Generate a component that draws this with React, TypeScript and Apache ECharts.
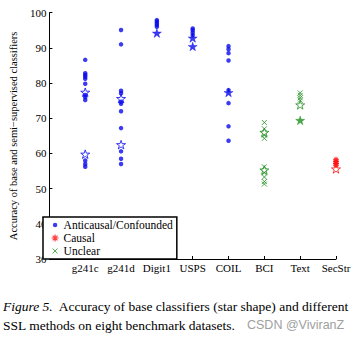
import React, { useEffect, useRef } from 'react';
import * as echarts from 'echarts';

const categories = ['g241c', 'g241d', 'Digit1', 'USPS', 'COIL', 'BCI', 'Text', 'SecStr'];
const categoryType = ['anticausal', 'anticausal', 'anticausal', 'anticausal', 'anticausal', 'unclear', 'unclear', 'causal'];

// SSL method accuracies (dots / crosses / asterisks)
const g241cSSL = [86.6, 82.8, 82.3, 81.8, 81.2, 79.8, 76.6, 76.0, 75.2, 58.0, 57.0, 56.2];
const g241dSSL = [95.1, 91.0, 77.8, 77.1, 74.7, 74.1, 72.0, 67.2, 60.6, 58.5, 57.0];
const digit1SSL = [97.9, 97.5, 97.0, 96.5, 96.0];
const uspsSSL = [95.5, 95.0, 94.3, 93.6];
const coilSSL = [90.5, 89.6, 88.5, 86.4, 78.0, 74.3, 67.7, 63.6];
const bciSSL = [68.8, 67.0, 65.2, 64.3, 56.2, 54.5, 53.3, 52.0, 51.3];
const textSSL = [77.2, 76.5, 75.8, 75.1];
const secStrSSL = [58.2, 57.7, 57.2, 56.7];

// base classifier accuracies (stars)
const g241cBaseHollow = [77.4, 59.8];
const g241dBaseHollow = [75.6, 62.5];
const digit1BaseFilled = [94.2];
const uspsBaseFilled = [92.8, 90.4];
const coilBaseFilled = [77.3];
const bciBaseHollow = [66.0, 55.3];
const textBaseHollow = [73.8];
const textBaseFilled = [69.4];
const secStrBaseHollow = [55.6];

const sslByCat = [g241cSSL, g241dSSL, digit1SSL, uspsSSL, coilSSL, bciSSL, textSSL, secStrSSL];
const hollowByCat = [g241cBaseHollow, g241dBaseHollow, [], [], [], bciBaseHollow, textBaseHollow, secStrBaseHollow];
const filledByCat = [[], [], digit1BaseFilled, uspsBaseFilled, coilBaseFilled, [], textBaseFilled, []];

const yTicks = [30, 40, 50, 60, 70, 80, 90, 100];

const BLUE = '#0a0aee';
const RED = '#ff1010';
const GREEN = '#1f8f1f';
const typeColor: Record<string, string> = { anticausal: BLUE, causal: RED, unclear: GREEN };

const STAR = 'path://M50,2 L61.8,37.6 L99,37.6 L69,59.6 L80.4,95 L50,73 L19.6,95 L31,59.6 L1,37.6 L38.2,37.6 Z';
const CROSS = 'path://M0,0L10,10M10,0L0,10';
const CROSS_LEG = 'path://M0,0L0.01,0M10,10L10.01,10M1.5,1.5L8.5,8.5M8.5,1.5L1.5,8.5';
const ASTER = 'path://M5,0L5,10M0,5L10,5M1.5,1.5L8.5,8.5M8.5,1.5L1.5,8.5';
const SMALLDOT = 'path://M0,0L0.01,0M10,10L10.01,10M5,1.8A3.2,3.2,0,1,1,5,8.2A3.2,3.2,0,1,1,5,1.8Z';

const FONT = 'Liberation Serif';

export default function App() {
  const ref = useRef<HTMLDivElement>(null);
  useEffect(() => {
    if (!ref.current) return;
    const chart = echarts.init(ref.current, null, { renderer: 'svg' });

    const pts = (type: string) => {
      const out: number[][] = [];
      sslByCat.forEach((arr, i) => {
        if (categoryType[i] === type) arr.forEach((v) => out.push([i + 1, v]));
      });
      return out;
    };
    const stars = (byCat: number[][], hollow: boolean) => {
      const out: any[] = [];
      byCat.forEach((arr, i) => {
        const c = typeColor[categoryType[i]];
        arr.forEach((v) =>
          out.push({
            value: [i + 1, v],
            itemStyle: hollow
              ? { color: 'rgba(255,255,255,0)', borderColor: c, borderWidth: 1 }
              : { color: c, borderColor: c, borderWidth: 0.5 },
          })
        );
      });
      return out;
    };

    chart.setOption({
      animation: false,
      grid: { left: 42, right: 25, top: 12.7, bottom: 83, containLabel: false },
      xAxis: {
        type: 'value',
        min: 0,
        max: 8,
        interval: 1,
        splitLine: { show: false },
        axisLine: { lineStyle: { color: '#000', width: 1 } },
        axisTick: { inside: true, length: 3, lineStyle: { color: '#000' } },
        axisLabel: {
          color: '#000',
          fontFamily: FONT,
          fontSize: 11,
          margin: 3,
          formatter: (v: number) => (v >= 1 && v <= 8 ? categories[v - 1] : ''),
        },
      },
      yAxis: {
        type: 'value',
        min: 30,
        max: 100,
        interval: 10,
        splitLine: { show: false },
        axisLine: { show: true, lineStyle: { color: '#000', width: 1 } },
        axisTick: { show: true, inside: true, length: 3, lineStyle: { color: '#000' } },
        axisLabel: {
          color: '#000',
          fontFamily: FONT,
          fontSize: 11,
          margin: 3,
          formatter: (v: number) => (yTicks.includes(v) ? String(v) : ''),
        },
        name: 'Accuracy of base and semi\u2212supervised classifiers',
        nameLocation: 'middle',
        nameRotate: 90,
        nameGap: 22,
        nameTextStyle: { color: '#000', fontFamily: FONT, fontSize: 10.5 },
      },
      legend: {
        orient: 'vertical',
        left: 43,
        top: 217,
        padding: [2, 4, 2, 8],
        itemGap: 1,
        itemWidth: 7,
        itemHeight: 7,
        borderColor: '#000',
        borderWidth: 1.5,
        backgroundColor: '#fff',
        textStyle: { color: '#000', fontFamily: FONT, fontSize: 11.5, lineHeight: 12 },
        data: [
          { name: 'Anticausal/Confounded', icon: SMALLDOT, itemStyle: { color: BLUE, borderWidth: 0 } },
          { name: 'Causal', icon: ASTER, itemStyle: { color: 'rgba(0,0,0,0)', borderColor: RED, borderWidth: 1.2 } },
          { name: 'Unclear', icon: CROSS_LEG, itemStyle: { color: 'rgba(0,0,0,0)', borderColor: GREEN, borderWidth: 1 } },
        ],
      },
      series: [
        {
          name: 'Anticausal/Confounded',
          type: 'scatter',
          symbol: 'circle',
          symbolSize: 4.5,
          itemStyle: { color: BLUE },
          data: pts('anticausal'),
          z: 2,
        },
        {
          name: 'Causal',
          type: 'scatter',
          symbol: ASTER,
          symbolSize: 6,
          itemStyle: { color: 'rgba(0,0,0,0)', borderColor: RED, borderWidth: 1.2 },
          data: pts('causal'),
          z: 2,
        },
        {
          name: 'Unclear',
          type: 'scatter',
          symbol: CROSS,
          symbolSize: 5,
          itemStyle: { color: 'rgba(0,0,0,0)', borderColor: GREEN, borderWidth: 1 },
          data: pts('unclear'),
          z: 2,
        },
        {
          name: 'base-hollow',
          type: 'scatter',
          symbol: STAR,
          symbolKeepAspect: true,
          symbolSize: 9,
          data: stars(hollowByCat, true),
          z: 3,
        },
        {
          name: 'base-filled',
          type: 'scatter',
          symbol: STAR,
          symbolKeepAspect: true,
          symbolSize: 9,
          data: stars(filledByCat, false),
          z: 3,
        },
      ],
      graphic: [
        {
          type: 'text',
          x: 3,
          y: 306.5,
          style: {
            text: '{i|Figure 5.}  Accuracy of base classifiers (star shape) and different',
            fill: '#000',
            font: `13.5px "${FONT}"`,
            verticalAlign: 'middle',
            rich: { i: { fontStyle: 'italic', fontFamily: FONT, fontSize: 13.5, fill: '#000' } },
          },
        },
        {
          type: 'text',
          x: 3,
          y: 325,
          style: {
            text: 'SSL methods on eight benchmark datasets.',
            fill: '#000',
            font: `13.5px "${FONT}"`,
            verticalAlign: 'middle',
          },
        },
        {
          type: 'text',
          x: 247,
          y: 325,
          style: {
            text: 'CSDN @ViviranZ',
            fill: '#a0a0a0',
            font: '12.5px "Liberation Sans"',
            verticalAlign: 'middle',
          },
        },
      ],
    });
    return () => chart.dispose();
  }, []);
  return <div ref={ref} style={{ position: 'absolute', left: 0, top: 0, width: 361, height: 342 }} />;
}
